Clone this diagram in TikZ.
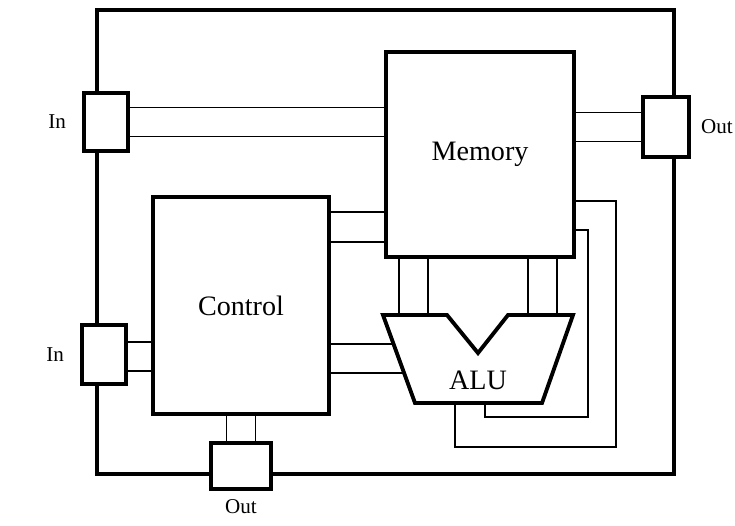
\documentclass[tikz,border=0pt]{standalone}
\usepackage{fontspec}
\setmainfont{Liberation Serif}
\usetikzlibrary{calc,positioning}
\tikzset{unit/.style={draw, line width=2.2pt, fill=white, align=center, font=\fontsize{16}{19}\selectfont},
  port/.style={draw, line width=2.2pt, fill=white},
  plab/.style={font=\fontsize{12}{14}\selectfont},
  bus/.style={line width=0.9pt}}

\begin{document}
\begin{tikzpicture}
  \useasboundingbox (0,0) rectangle (14.7,-10.5);
  % chip outline
  \draw[line width=2.2pt] (1.94,-0.2) rectangle (13.48,-9.48);
  % main blocks
  \node[unit, minimum width=3.76cm, minimum height=4.1cm] (mem) at (9.6,-3.09) {Memory};
  \node[unit, minimum width=3.52cm, minimum height=4.34cm] (ctrl) at (4.82,-6.11) {Control};
  % ALU outline
  \coordinate (atl) at (7.66,-6.3);
  \coordinate (atr) at (11.46,-6.3);
  \coordinate (abr) at (10.84,-8.06);
  \coordinate (abl) at (8.3,-8.06);
  \draw[line width=2.2pt, fill=white] (atl) -- (8.94,-6.3) -- (9.56,-7.06) -- (10.16,-6.3)
    -- (atr) -- (abr) -- (abl) -- cycle;
  \node[font=\fontsize{16}{19}\selectfont] (alu) at (9.56,-7.6) {ALU};
  % ports
  \node[port, minimum width=0.88cm, minimum height=1.16cm] (in1) at (2.12,-2.44) {};
  \node[port, minimum width=0.88cm, minimum height=1.18cm] (in2) at (2.08,-7.09) {};
  \node[port, minimum width=0.92cm, minimum height=1.2cm] (out1) at (13.32,-2.54) {};
  \node[port, minimum width=1.2cm, minimum height=0.92cm] (out2) at (4.82,-9.32) {};
  \node[plab, left=0.2cm of in1] {In};
  \node[plab, left=0.2cm of in2] {In};
  \node[plab, right=0.08cm of out1] {Out};
  \node[plab, below=0.05cm of out2] {Out};
  % buses
  \foreach \y in {-2.9,2.9}{
    \draw[bus] ($(in1.east)+(0,\y mm)$) coordinate (p) -- (p -| mem.west);
    \draw[bus] ($(out1.west)+(0,\y mm)$) coordinate (p) -- (p -| mem.east);
    \draw[bus] ($(in2.east)+(0,\y mm-0.4mm)$) coordinate (p) -- (p -| ctrl.west);
    \draw[bus] ($(out2.north)+(\y mm,0)$) coordinate (p) -- (p |- ctrl.south);}
  \foreach \y in {-4.24,-4.84}
    \draw[bus] (ctrl.east |- 0,\y) -- (mem.west |- 0,\y);
  \foreach \d in {-1.62,-1.04,0.96,1.54}
    \draw[bus] ($(mem.south)+(\d,0)$) coordinate (p) -- (p |- atl);
  % control lines into ALU
  \foreach \t in {0.33,0.66}
    \draw[bus] ($(atl)!\t!(abl)$) coordinate (p) -- (p -| ctrl.east);
  % results back to memory
  \draw[bus] ($(abl)!0.551!(abr)$) -- ++(0,-0.28) -| ($(mem.east)+(0.24,-1.51)$) -- ($(mem.east)+(0,-1.51)$);
  \draw[bus] ($(abl)!0.315!(abr)$) -- ++(0,-0.88) -| ($(mem.east)+(0.8,-0.93)$) -- ($(mem.east)+(0,-0.93)$);
\end{tikzpicture}
\end{document}
